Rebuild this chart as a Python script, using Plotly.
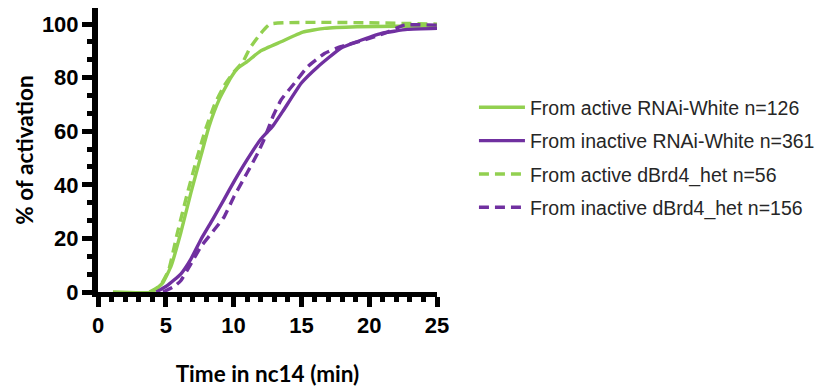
import plotly.graph_objects as go

# Cumulative activation curves (% of nuclei activated vs time in nc14)
t_active_rnai = [1.1, 4.0, 4.8, 5.4, 6.1, 6.85, 7.6, 8.2, 8.95, 9.8, 10.3, 11.0, 12.0, 13.5, 15.1, 16.7, 19.1, 22.0, 25.0]
v_active_rnai = [0, 0, 3.6, 9.8, 22, 37, 51, 62, 72, 80, 83.5, 86, 90, 93.4, 97, 98.4, 99, 99.2, 99.3]

t_inactive_rnai = [4.3, 5.1, 6.1, 6.85, 7.6, 8.45, 9.3, 10.05, 11.0, 12.0, 12.9, 13.7, 15.0, 16.2, 17.9, 19.1, 20.9, 22.8, 25.0]
v_inactive_rnai = [0, 2.4, 6.7, 12.3, 19.7, 27, 34.6, 41.4, 49.4, 57, 62, 68, 78, 84, 91, 93.4, 96.5, 98, 98.4]

t_active_brd4 = [3.8, 4.6, 5.2, 5.85, 6.6, 7.3, 7.95, 8.6, 9.3, 10.0, 10.7, 11.2, 12.0, 12.7, 25.0]
v_active_brd4 = [0, 2.5, 8, 22, 37, 50, 61, 70, 77, 82, 86, 91, 96.5, 100, 100]

t_inactive_brd4 = [4.8, 5.6, 6.1, 6.8, 7.6, 8.6, 9.3, 10.05, 11.0, 11.8, 12.25, 12.9, 13.5, 14.5, 15.45, 16.7, 17.9, 19.6, 21.1, 22.6, 25.0]
v_inactive_brd4 = [0, 2, 4.2, 10, 17, 23.4, 28, 35.8, 44.5, 52, 57, 65.5, 71.7, 78, 84, 89, 91.6, 94, 96.5, 99.6, 99.6]

names = [
    "From active RNAi-White n=126",
    "From inactive RNAi-White n=361",
    "From active dBrd4_het n=56",
    "From inactive dBrd4_het n=156",
]

GREEN = "#92D050"
PURPLE = "#7030A0"
DASH = "10px,6px"

series = [
    (t_active_rnai, v_active_rnai, GREEN, "solid"),
    (t_inactive_rnai, v_inactive_rnai, PURPLE, "solid"),
    (t_active_brd4, v_active_brd4, GREEN, DASH),
    (t_inactive_brd4, v_inactive_brd4, PURPLE, DASH),
]

fig = go.Figure()
for i, ((t, v, color, dash), name) in enumerate(zip(series, names)):
    fig.add_trace(go.Scatter(
        x=t, y=v, mode="lines", name=name, legendgroup=f"g{i}",
        line=dict(color=color, width=3.4, dash=dash, shape="spline", smoothing=0.4),
    ))

tick_font = dict(family="Liberation Sans, Arial", size=22, color="black", weight="bold")
title_font = dict(family="Lato, Liberation Sans", size=22.5, color="black", weight="bold")

fig.update_layout(
    width=816, height=387,
    margin=dict(l=98, r=379, t=8, b=95, autoexpand=False),
    plot_bgcolor="white", paper_bgcolor="white",
    showlegend=True,
    legend=dict(
        x=1.109, xanchor="left", y=0.718, yanchor="top",
        font=dict(family="Liberation Sans, Arial", size=19.5, color="#262626"),
        tracegroupgap=5, itemwidth=46, bgcolor="rgba(0,0,0,0)",
    ),
)

fig.update_xaxes(
    range=[0, 25], tickvals=[0, 5, 10, 15, 20, 25], automargin=False,
    showline=True, linecolor="black", linewidth=5,
    ticks="outside", ticklen=10, tickwidth=5, tickcolor="black",
    minor=dict(dtick=1, tick0=0, ticks="outside", ticklen=5, tickwidth=5, tickcolor="black"),
    showgrid=False, zeroline=False, tickfont=tick_font,
    title=dict(text="Time in nc14 (min)", font=title_font, standoff=31),
)
fig.update_yaxes(
    range=[0, 106], tickvals=[0, 20, 40, 60, 80, 100], automargin=False,
    showline=True, linecolor="black", linewidth=6,
    ticks="outside", ticklen=10, tickwidth=5, tickcolor="black",
    minor=dict(dtick=20 / 3, tick0=0, ticks="outside", ticklen=5, tickwidth=5, tickcolor="black"),
    showgrid=False, zeroline=False, tickfont=tick_font, ticklabelstandoff=-1,
    title=dict(text="% of activation", font=title_font, standoff=4),
)

fig.write_html("out.html")
